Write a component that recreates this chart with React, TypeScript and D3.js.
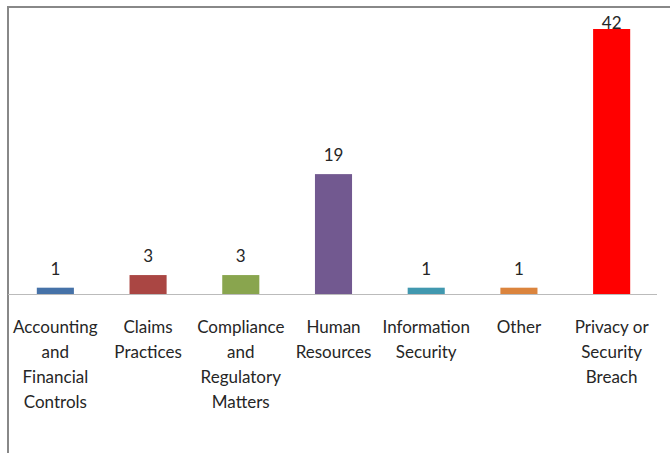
import React from 'react';
import * as d3 from 'd3';

const categories = [
  ['Accounting', 'and', 'Financial', 'Controls'],
  ['Claims', 'Practices'],
  ['Compliance', 'and', 'Regulatory', 'Matters'],
  ['Human', 'Resources'],
  ['Information', 'Security'],
  ['Other'],
  ['Privacy or', 'Security', 'Breach'],
];
const values = [1, 3, 3, 19, 1, 1, 42];
const colors = ['#4672a8', '#aa4643', '#89a54e', '#725990', '#4198af', '#db843d', '#ff0000'];

const width = 670;
const height = 453;
const fontFamily = 'Lato, "Open Sans", sans-serif';

const App = () => {
  const keys = categories.map((c) => c.join(' '));
  const x = d3.scaleBand<string>().domain(keys).range([9, 658]).paddingInner(0.6).paddingOuter(0.3);
  const y = d3.scaleLinear().domain([0, 42]).range([294, 29]);

  return (
    <svg
      width={width}
      height={height}
      style={{ position: 'absolute', left: 0, top: 0, background: '#fff' }}
    >
      {/* outer frame (only top and left edges are visible) */}
      <line x1={8} y1={7} x2={width} y2={7} stroke="#888" strokeWidth={2} />
      <line x1={8} y1={6} x2={8} y2={height} stroke="#888" strokeWidth={2} />

      {values.map((v, i) => {
        const key = keys[i];
        const bx = x(key) ?? 0;
        const top = y(v);
        return (
          <g key={key}>
            <rect x={bx} y={top} width={x.bandwidth()} height={y(0) - top} fill={colors[i]} />
            <text
              x={bx + x.bandwidth() / 2}
              y={Math.max(top - 13, 29)}
              textAnchor="middle"
              fontSize={17}
              fontFamily={fontFamily}
              fill="#262626"
            >
              {v}
            </text>
          </g>
        );
      })}

      <line x1={8} y1={294.5} x2={657} y2={294.5} stroke="#bbb" strokeWidth={1.2} />

      {categories.map((lines, i) => {
        const cx = (x(keys[i]) ?? 0) + x.bandwidth() / 2;
        return (
          <text
            key={keys[i]}
            textAnchor="middle"
            fontSize={17}
            fontFamily={fontFamily}
            fill="#262626"
          >
            {lines.map((t, j) => (
              <tspan key={j} x={cx} y={333 + j * 25}>
                {t}
              </tspan>
            ))}
          </text>
        );
      })}
    </svg>
  );
};

export default App;
